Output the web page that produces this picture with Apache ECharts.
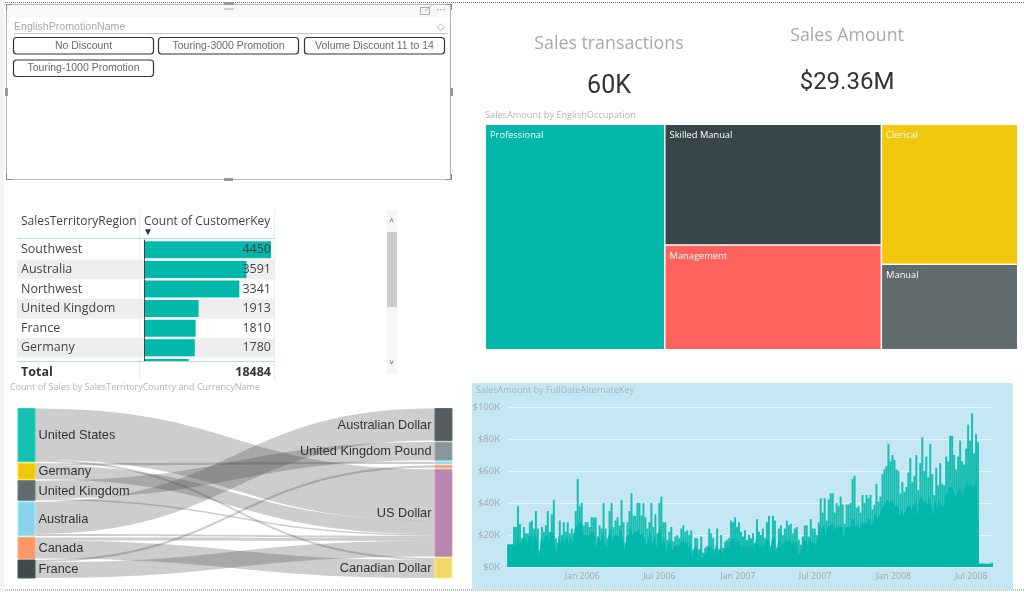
<!DOCTYPE html>
<html>
<head>
<meta charset="utf-8">
<style>
  html, body { margin: 0; padding: 0; background: #fff; }
  #main { width: 1024px; height: 592px; }
</style>
<script src="https://cdn.jsdelivr.net/npm/echarts@6/dist/echarts.min.js"></script>
</head>
<body>
<div id="main"></div>
<script>
// ---- Data ----
const promotions = ['No Discount', 'Touring-3000 Promotion', 'Volume Discount 11 to 14', 'Touring-1000 Promotion'];

const regions = ['Southwest', 'Australia', 'Northwest', 'United Kingdom', 'France', 'Germany', 'Canada'];
const customerCounts = [4450, 3591, 3341, 1913, 1810, 1780, 1571];
const customerTotal = '18484';

const occupations = ['Professional', 'Skilled Manual', 'Management', 'Clerical', 'Manual'];
const occupationSales = [9.9, 6.4, 5.54, 4.67, 2.85];
const occupationColors = ['#01b8aa', '#374649', '#fd625e', '#f2c80f', '#5f6b6d'];

const countries = ['United States', 'Germany', 'United Kingdom', 'Australia', 'Canada', 'France'];
const countryColors = ['#16bfb0', '#f2c80f', '#5f6b6d', '#8ad4eb', '#fe9666', '#3f4c4f'];
const currencies = ['Australian Dollar', 'United Kingdom Pound', 'Deutsche Mark', 'French Franc', 'US Dollar', 'Canadian Dollar'];
const currencyColors = ['#555d5f', '#8a9597', '#8ad4eb', '#fe9666', '#b987ae', '#f3d568'];
const hiddenCurrencies = ['Deutsche Mark', 'French Franc'];
const flowSource = ['United States', 'United States', 'Germany', 'Germany', 'United Kingdom', 'United Kingdom', 'Australia', 'Australia', 'Canada', 'Canada', 'France', 'France'];
const flowTarget = ['US Dollar', 'Canadian Dollar', 'Deutsche Mark', 'US Dollar', 'United Kingdom Pound', 'US Dollar', 'Australian Dollar', 'US Dollar', 'US Dollar', 'Canadian Dollar', 'French Franc', 'US Dollar'];
const flowCounts = [19100, 750, 900, 5100, 6750, 560, 12000, 750, 1120, 6750, 840, 5900];

// sales in $K, one reading about every 4.7 days
const salesStart = '2005-07-11';
const salesEnd = '2008-08-19';
const salesPeak = [
  14, 14, 14, 25, 25, 38, 27, 18, 25, 21, 21, 28, 29, 24, 35, 24, 10, 25, 22, 26, 35, 22, 33, 42, 18, 15, 29, 20, 28, 22,
  28, 21, 24, 21, 35, 55, 38, 40, 26, 28, 28, 25, 31, 31, 31, 19, 26, 24, 40, 24, 18, 35, 40, 25, 29, 31, 26, 42, 28, 15, 28,
  35, 46, 32, 32, 40, 40, 32, 40, 31, 24, 28, 40, 25, 33, 21, 40, 44, 28, 28, 17, 22, 25, 16, 19, 20, 18, 24, 26, 22,
  23, 20, 23, 11, 18, 18, 11, 19, 9, 12, 13, 24, 21, 18, 11, 24, 11, 20, 12, 16, 17, 18, 29, 28, 31, 25, 28, 22, 19, 23, 17,
  20, 18, 21, 15, 30, 22, 20, 24, 18, 28, 32, 13, 32, 29, 12, 24, 26, 20, 24, 29, 26, 27, 21, 24, 25, 17, 14, 19, 26, 26,
  19, 30, 24, 24, 20, 28, 43, 34, 43, 29, 42, 46, 46, 34, 40, 38, 44, 39, 27, 39, 39, 40, 55, 57, 37, 38, 34, 45, 40, 45,
  43, 45, 36, 39, 52, 41, 44, 58, 61, 63, 77, 66, 70, 67, 61, 60, 46, 53, 47, 50, 59, 68, 53, 57, 70, 48, 65, 81, 60, 69,
  56, 77, 58, 45, 62, 51, 65, 52, 51, 69, 66, 82, 82, 70, 61, 69, 79, 66, 64, 74, 89, 79, 96, 71, 83, 78, 2, 2.3, 2, 2, 2, 2, 2.7
];
// darker solid part under the spikes
const salesBody = [
  14, 14, 14, 14, 14, 21, 15, 14, 18, 17, 15, 19, 20, 14, 21, 18, 5, 18, 15, 19,
  20, 13, 22, 21, 13, 9, 20, 14, 20, 14, 20, 15, 18, 15, 24, 26, 28, 28, 20, 20,
  20, 18, 22, 22, 20, 12, 19, 16, 22, 16, 12, 20, 24, 16, 20, 20, 18, 24, 18, 10, 20,
  20, 24, 20, 22, 22, 24, 20, 22, 18, 14, 18, 22, 14, 20, 12, 22, 24, 15, 18, 10,
  15, 17, 10, 13, 14, 13, 15, 17, 15, 15, 12, 14, 6, 12, 12, 7, 12, 5, 8, 9,
  14, 12, 11, 7, 15, 7, 12, 8, 10, 12, 13, 16, 18, 18, 15, 18, 13, 12, 15, 11,
  13, 12, 14, 9, 18, 14, 12, 15, 12, 16, 18, 8, 18, 18, 7, 15, 17, 13, 15, 17,
  16, 18, 14, 16, 16, 10, 8, 12, 17, 16, 12, 18, 15, 16, 13, 17, 26, 24, 26, 20,
  25, 26, 27, 22, 25, 24, 26, 25, 18, 25, 25, 26, 30, 30, 25, 27, 24, 28, 27, 28,
  30, 30, 26, 28, 34, 30, 32, 36, 38, 40, 42, 40, 42, 40, 38, 38, 32, 36, 32, 34,
  38, 38, 36, 38, 42, 32, 42, 44, 40, 42, 38, 44, 38, 32, 42, 36, 42, 38, 38, 46,
  46, 50, 50, 48, 44, 46, 50, 46, 44, 50, 54, 50, 52, 48, 52, 50, 2, 2, 2, 2, 2, 2, 2
];
const salesTicks = ['2006-01-01', '2006-07-01', '2007-01-01', '2007-07-01', '2008-01-01', '2008-07-01'];

// ---- Page furniture ----
const labelFont = '"Liberation Sans", Arial, sans-serif';
const uiFont = '"Open Sans", sans-serif';
const elements = [];

function rect(x, y, width, height, style, extra) {
  elements.push(Object.assign({ type: 'rect', shape: { x, y, width, height }, style, silent: true, z: -1 }, extra));
}
function line(x1, y1, x2, y2, stroke, lineWidth, lineDash, z) {
  elements.push({
    type: 'line', shape: { x1, y1, x2, y2 }, silent: true, z: z === undefined ? -1 : z,
    style: { stroke, lineWidth: lineWidth || 1, lineDash: lineDash || null }
  });
}
function text(x, y, str, font, fill, align, z) {
  elements.push({
    type: 'text', x, y, silent: true, z: z === undefined ? 5 : z,
    style: { text: str, font, fill, align: align || 'left', verticalAlign: 'middle' }
  });
}

// page edge and dotted bounds
rect(0, 0, 4, 592, { fill: '#f3f3f3' });
line(5, 2.5, 1024, 2.5, '#777', 1, [1, 1]);
line(5, 590, 1024, 590, '#777', 1, [1, 1]);

// slicer
rect(6.5, 4.5, 444, 175, { fill: '#fff', stroke: '#b5b5b5', lineWidth: 1 });
rect(7, 5, 443, 12, { fill: '#f8f8f8' });
rect(224, 8, 10, 2, { fill: '#cfcfcf' });
rect(224, 2, 10, 3, { fill: '#999' });
rect(224, 178, 9, 3, { fill: '#999' });
rect(5, 88, 3, 8, { fill: '#999' });
rect(450, 88, 3, 8, { fill: '#999' });
[[6, 4, 6, 1], [6, 4, 1, 6], [446, 4, 6, 1], [451, 4, 1, 6], [6, 179, 6, 1], [6, 174, 1, 6], [446, 179, 6, 1], [451, 174, 1, 6]]
  .forEach(c => rect(c[0], c[1], c[2], c[3], { fill: '#888' }));
rect(420.5, 7.5, 9, 7, { fill: 'none', stroke: '#aaa' });
line(425, 11, 431, 6, '#aaa');
text(441, 10, '···', '10px ' + labelFont, '#888', 'center');
text(441, 27, '◇', '10px ' + labelFont, '#aaa', 'center');
text(14, 27, 'EnglishPromotionName', '10.6px ' + labelFont, '#a8a8a8');
line(14, 33.5, 448, 33.5, '#c4c4c4');
const buttonX = [13.5, 158.5, 304.5];
promotions.forEach((name, i) => {
  const x = buttonX[i % 3];
  const y = 37.5 + Math.floor(i / 3) * 22.5;
  rect(x, y, 140, 16.5, { fill: '#fff', stroke: '#333', lineWidth: 1.2 }, { shape: { x, y, width: 140, height: 16.5, r: 3 } });
  text(x + 70, y + 8.5, name, '10.5px ' + labelFont, '#6a6a6a', 'center');
});

// table
customerCounts.forEach((v, i) => {
  if (i % 2) rect(17, 240 + i * 19.6, 258, 19.6, { fill: '#eeeeee' });
});
line(139.5, 210, 139.5, 380, '#dff4f2');
line(274.5, 210, 274.5, 380, '#dff4f2');
line(17, 238.5, 275, 238.5, '#a8e5df');
text(21, 221.5, 'SalesTerritoryRegion', '12px ' + uiFont, '#444');
text(144, 221.5, 'Count of CustomerKey', '12px ' + uiFont, '#444');
text(148, 232.5, '▼', '10px ' + labelFont, '#333', 'center');
rect(5, 361, 381, 24, { fill: '#fff' }, { z: 20 });
line(17, 361.5, 275, 361.5, '#a8e5df', 1, null, 21);
line(139.5, 362, 139.5, 380, '#dff4f2', 1, null, 21);
line(274.5, 362, 274.5, 380, '#dff4f2', 1, null, 21);
text(21, 372, 'Total', 'bold 12.5px ' + uiFont, '#333', 'left', 22);
text(271, 372, customerTotal, 'bold 12.5px ' + uiFont, '#333', 'right', 22);
rect(387, 210, 10, 164, { fill: '#f5f5f5' }, { z: 21 });
rect(387, 232, 10, 75, { fill: '#cdcdcd' }, { z: 22 });
text(391.5, 221, '˄', '8px ' + labelFont, '#555', 'center', 22);
text(391.5, 363, '˅', '8px ' + labelFont, '#555', 'center', 22);
text(10, 387, 'Count of Sales by SalesTerritoryCountry and CurrencyName', '9px ' + uiFont, '#b3b3b3', 'left', 22);

// kpi cards
text(609, 43.5, 'Sales transactions', '17.8px ' + uiFont, '#a9a9a9', 'center');
text(609, 86.5, '60K', '25px Roboto, sans-serif', '#333', 'center');
text(847, 36, 'Sales Amount', '17.8px ' + uiFont, '#a9a9a9', 'center');
text(847, 82.5, '$29.36M', '24px Roboto, sans-serif', '#333', 'center');
text(485, 115, 'SalesAmount by EnglishOccupation', '9.2px ' + uiFont, '#b3b3b3');

// line panel
rect(472, 383, 541, 207, { fill: '#c5e7f3' });
text(476, 390.5, 'SalesAmount by FullDateAlternateKey', '9px ' + uiFont, '#a5b3b9');

// ---- Chart ----
const nodes = countries.map((name, i) => ({
  name,
  depth: 0,
  itemStyle: { color: countryColors[i], borderColor: echarts.color.lift(countryColors[i], -0.15), borderWidth: 1 },
  label: { position: 'right', offset: [0, 0.5] }
})).concat(currencies.map((name, i) => ({
  name,
  depth: 1,
  itemStyle: { color: currencyColors[i], borderColor: echarts.color.lift(currencyColors[i], -0.15), borderWidth: 1 },
  label: { position: 'left', offset: [0, 0.5], show: !hiddenCurrencies.includes(name) }
})));
const links = flowCounts.map((value, i) => ({ source: flowSource[i], target: flowTarget[i], value }));

const startMs = Date.parse(salesStart);
const stepMs = (Date.parse(salesEnd) - startMs) / (salesPeak.length - 1);
const peakPoints = salesPeak.map((v, i) => [startMs + i * stepMs, v]);
const bodyPoints = salesBody.map((v, i) => [startMs + i * stepMs, v]);
const monthNames = ['Jan', 'Feb', 'Mar', 'Apr', 'May', 'Jun', 'Jul', 'Aug', 'Sep', 'Oct', 'Nov', 'Dec'];

const chart = echarts.init(document.getElementById('main'));
chart.setOption({
  animation: false,
  textStyle: { fontFamily: uiFont },
  graphic: { elements },
  grid: [
    { left: 144, top: 240, width: 127, height: 137.2 },
    { left: 508, right: 32, top: 407, bottom: 25 }
  ],
  xAxis: [
    { gridIndex: 0, type: 'value', min: 0, max: 4450, show: false },
    {
      gridIndex: 1, type: 'value', scale: true, min: startMs, max: Date.parse(salesEnd),
      axisLine: { show: false }, axisTick: { show: false }, splitLine: { show: false },
      axisLabel: {
        customValues: salesTicks.map(d => Date.parse(d)),
        color: '#a0a8ac', fontSize: 8.8, margin: 5, showMinLabel: true, showMaxLabel: true,
        formatter: v => {
          const d = new Date(v);
          return monthNames[d.getUTCMonth()] + ' ' + d.getUTCFullYear();
        }
      }
    }
  ],
  yAxis: [
    {
      gridIndex: 0, type: 'category', inverse: true, data: regions, z: 6,
      axisLine: { lineStyle: { color: '#333', type: 'dotted' } }, axisTick: { show: false },
      axisLabel: { align: 'left', margin: 123, color: '#444', fontSize: 12.5 }
    },
    {
      gridIndex: 0, type: 'category', inverse: true, position: 'right', z: 6,
      data: customerCounts.map(String),
      axisLine: { show: false }, axisTick: { show: false },
      axisLabel: { align: 'right', margin: 0, color: '#444', fontSize: 12.5 }
    },
    {
      gridIndex: 1, type: 'value', min: 0, max: 100, interval: 20,
      axisLine: { show: false }, axisTick: { show: false },
      splitLine: { lineStyle: { color: '#e4f3f9', width: 1 } },
      axisLabel: { formatter: v => '$' + v + 'K', color: '#a0a8ac', fontSize: 9.5, margin: 8 }
    }
  ],
  series: [
    {
      type: 'bar', xAxisIndex: 0, yAxisIndex: 0, data: customerCounts, barWidth: 17,
      itemStyle: { color: '#01b8aa' }, silent: true
    },
    {
      type: 'bar', xAxisIndex: 1, yAxisIndex: 2, data: peakPoints, barWidth: 2,
      silent: true, itemStyle: { color: '#01b8aa', opacity: 0.88 }
    },
    {
      type: 'line', xAxisIndex: 1, yAxisIndex: 2, data: bodyPoints, step: 'middle',
      showSymbol: false, silent: true, z: 3,
      lineStyle: { width: 0 },
      areaStyle: { color: '#01b8aa', opacity: 1 }
    },
    {
      type: 'treemap', left: 486, right: 7, top: 125, bottom: 243,
      breadcrumb: { show: false }, roam: false, nodeClick: false, silent: true,
      label: { position: 'insideTopLeft', color: '#fff', fontSize: 9.3, padding: [6, 4], fontFamily: uiFont },
      itemStyle: { borderColor: '#fff', borderWidth: 0, gapWidth: 1.5 },
      levels: [{ itemStyle: { borderWidth: 0, gapWidth: 1.5 } }],
      data: occupations.map((name, i) => ({ name, value: occupationSales[i], itemStyle: { color: occupationColors[i] } }))
    },
    {
      type: 'sankey', left: 18, right: 572, top: 408.5, bottom: 14,
      nodeWidth: 17, nodeGap: 1.5, layoutIterations: 0, silent: true,
      emphasis: { disabled: true },
      label: { color: '#333', fontSize: 12.8, fontFamily: labelFont, distance: 3 },
      lineStyle: { color: '#3c3c3c', opacity: 0.26, curveness: 0.5 },
      data: nodes,
      links
    }
  ]
});
window.addEventListener('resize', () => chart.resize());
</script>
</body>
</html>
